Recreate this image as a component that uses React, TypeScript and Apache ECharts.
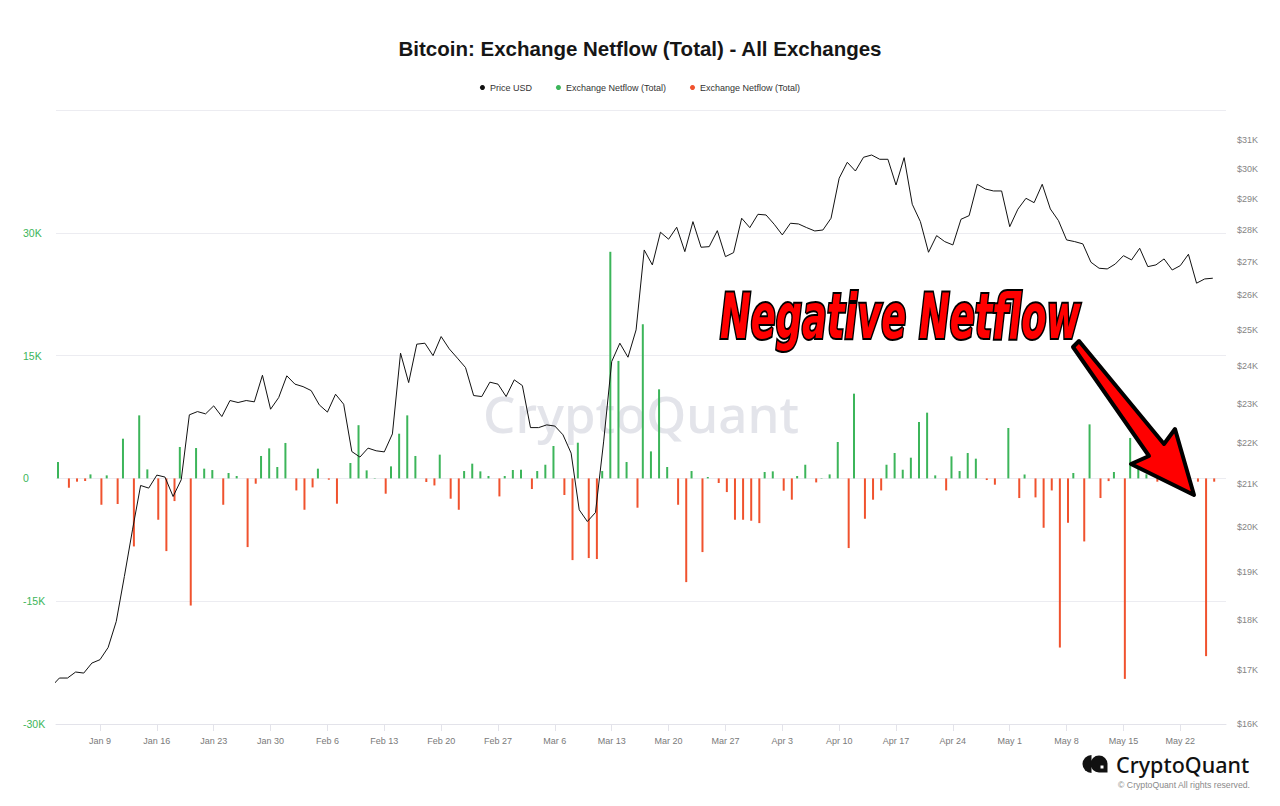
import React, { useEffect, useRef } from "react";
import * as echarts from "echarts";

// ---------- data ----------
const START_DATE = "2023-01-03";

// BTC price (USD), daily from 2023-01-03 to 2023-05-26
const PRICE_USD = [
  16690,
  16855, 16855, 16970, 16950, 17143, 17209, 17448, 17970, 18910, 19935,
  20962, 20900, 21210, 21163, 20702, 21099, 22708, 22792, 22733, 22940,
  22664, 23079, 23027, 23079, 23045, 23750, 22853, 23157, 23734, 23511,
  23445, 23340, 22965, 22779, 23244, 22983, 21784, 21647, 21868, 21802,
  21775, 22223, 24351, 23553, 24600, 24627, 24283, 24813, 24469, 24214,
  23957, 23210, 23183, 23564, 23511, 23183, 23626, 23473, 22382, 22382,
  22451, 22421, 22200, 21744, 20392, 20124, 20330, 22022, 24121, 24627,
  24239, 25001, 27370, 26911, 27925, 27705, 28083, 27318, 28262, 27454,
  27473, 27975, 27164, 27287, 28371, 28071, 28498, 28476, 28179, 27841,
  28211, 28188, 28071, 27965, 27996, 28371, 29686, 30227, 29930, 30399,
  30477, 30330, 30330, 29459, 30386, 28824, 28262, 27299, 27817, 27630,
  27526, 28338, 28455, 29483, 29326, 29261, 29261, 28101, 28662, 29019,
  28876, 29483, 28671, 28294, 27683, 27630, 27559, 26992, 26809, 26788,
  26939, 27193, 27063, 27423, 26858, 26911, 27094, 26756, 26889, 27237,
  26359, 26486, 26508,
];

// Exchange netflow (BTC), same dates
const NETFLOW = [
  null,
  2000, -1140, -400, -320, 490, -3220, 370, -3130, 4850, -8310,
  7700, 1100, -5050, -8880, -2770, 3840, -15530, 3710, 1190, 1020,
  -3220, 660, 290, -8390, -650, 2740, 3670, 1390, 4330, -1470,
  -3830, -1100, 1190, -160, -3090, 0, 1880, 6500, 980, 50,
  -1870, 1470, 5460, 7700, 2740, -440, -860, 2900, -2480, -3830,
  900, 1800, 860, 290, -2200, 290, 1020, 1060, -1300, 900,
  1670, 3960, -2030, -9980, 4360, -9730, -9850, 900, 27680, 14350,
  2000, -3580, 18830, 3300, 10880, 1390, -3220, -12670, 900, -9000,
  170, -560, -1670, -5050, -5050, -5170, -5460, 780, 860, -1500,
  -2600, 290, 1670, -490, 50, 490, 4450, -8510, 10350, -4930,
  -2600, -1470, 1670, 3100, 1060, 2530, 6890, 8030, 370, -1470,
  2690, 900, 3100, 2410, -200, -770, 0, 6160, -2400, 490,
  -2320, -6030, -1470, -20660, -5420, 660, -7700, 6600, -2400, -330,
  780, -24490, 4940, 1190, 500, -400, 300, -600, 200, -300,
  -400, -21710, -400,
];

const WEEK_TICKS = [
  "2023-01-09", "2023-01-16", "2023-01-23", "2023-01-30", "2023-02-06",
  "2023-02-13", "2023-02-20", "2023-02-27", "2023-03-06", "2023-03-13",
  "2023-03-20", "2023-03-27", "2023-04-03", "2023-04-10", "2023-04-17",
  "2023-04-24", "2023-05-01", "2023-05-08", "2023-05-15", "2023-05-22",
];

const PRICE_TICKS = [
  16000, 17000, 18000, 19000, 20000, 21000, 22000, 23000,
  24000, 25000, 26000, 27000, 28000, 29000, 30000, 31000,
];

const NETFLOW_MIN = -30000;
const NETFLOW_MAX = 45000;
const NETFLOW_STEP = 15000;
const PRICE_MIN = 16000;
const PRICE_MAX = 32071;
const X_MIN = "2023-01-03T14:00";
const X_MAX = "2023-05-27T15:00";

const MONTHS = ["Jan", "Feb", "Mar", "Apr", "May", "Jun", "Jul", "Aug", "Sep", "Oct", "Nov", "Dec"];
const DAY_MS = 86400000;

function toMs(s: string): number {
  const [datePart, timePart] = s.split("T");
  const [y, m, d] = datePart.split("-").map(Number);
  const [hh, mi] = timePart ? timePart.split(":").map(Number) : [0, 0];
  return Date.UTC(y, m - 1, d, hh, mi);
}

function buildDates(start: string, n: number): number[] {
  const t0 = toMs(start);
  const out: number[] = [];
  for (let i = 0; i < n; i++) out.push(t0 + i * DAY_MS);
  return out;
}

const GREEN = "#3cb55a";
const RED = "#f0522e";
const NAME_GREEN = "Exchange Netflow (Total)";
const NAME_RED = "Exchange Netflow (Total) ";

export default function App() {
  const ref = useRef<HTMLDivElement>(null);

  useEffect(() => {
    if (!ref.current) return;
    const chart = echarts.init(ref.current, null, { renderer: "svg" });
    const dates = buildDates(START_DATE, PRICE_USD.length);
    const weekTicks = WEEK_TICKS.map(toMs);

    const priceData = dates.map((d, i) => [d, PRICE_USD[i]]);
    const greenData = dates.map((d, i) => {
      const v = NETFLOW[i];
      return [d, v != null && v > 0 ? v : null];
    });
    const redData = dates.map((d, i) => {
      const v = NETFLOW[i];
      return [d, v != null && v < 0 ? v : null];
    });

    const option: any = {
      animation: false,
      backgroundColor: "#ffffff",
      title: {
        text: "Bitcoin: Exchange Netflow (Total) - All Exchanges",
        left: "center",
        top: 33,
        textStyle: {
          fontFamily: "Liberation Sans, Arial, sans-serif",
          fontSize: 20.5,
          fontWeight: "bold",
          color: "#161616",
        },
      },
      legend: {
        top: 78,
        left: "center",
        icon: "circle",
        itemWidth: 5,
        itemHeight: 5,
        itemGap: 24,
        formatter: (name: string) => name.trim(),
        textStyle: {
          fontFamily: "Liberation Sans, Arial, sans-serif",
          fontSize: 9,
          color: "#333",
        },
        data: ["Price USD", NAME_GREEN, NAME_RED],
      },
      grid: { left: 56, right: 54, top: 110, bottom: 82 },
      xAxis: {
        type: "value",
        min: toMs(X_MIN),
        max: toMs(X_MAX),
        axisLine: { show: true, onZero: false, lineStyle: { color: "#e3e3ea", width: 1 } },
        axisTick: {
          show: true,
          length: 7,
          customValues: weekTicks,
          lineStyle: { color: "#e3e3ea" },
        },
        splitLine: { show: false },
        axisLabel: {
          customValues: weekTicks,
          margin: 12,
          color: "#7a7a7a",
          fontSize: 9,
          fontFamily: "Liberation Sans, Arial, sans-serif",
          formatter: (v: number) => {
            const dt = new Date(v);
            return `${MONTHS[dt.getUTCMonth()]} ${dt.getUTCDate()}`;
          },
        },
      },
      yAxis: [
        {
          type: "value",
          position: "left",
          min: NETFLOW_MIN,
          max: NETFLOW_MAX,
          interval: NETFLOW_STEP,
          axisLine: { show: false },
          axisTick: { show: false },
          splitLine: { show: true, lineStyle: { color: "#ececf1", width: 1 } },
          axisLabel: {
            align: "left",
            margin: 33,
            color: GREEN,
            fontSize: 10.5,
            fontFamily: "Liberation Sans, Arial, sans-serif",
            formatter: (v: number) =>
              v >= NETFLOW_MAX ? "" : v === 0 ? "0" : `${v / 1000}K`,
          },
        },
        {
          type: "log",
          logBase: 10,
          position: "right",
          min: PRICE_MIN,
          max: PRICE_MAX,
          axisLine: { show: false },
          axisTick: { show: false },
          splitLine: { show: false },
          axisLabel: {
            customValues: PRICE_TICKS,
            align: "left",
            margin: 11,
            color: "#858585",
            fontSize: 9,
            fontFamily: "Liberation Sans, Arial, sans-serif",
            formatter: (v: number) => `$${Math.round(v / 1000)}K`,
          },
        },
      ],
      series: [
        {
          name: "Price USD",
          type: "line",
          yAxisIndex: 1,
          data: priceData,
          showSymbol: false,
          symbol: "circle",
          itemStyle: { color: "#111111" },
          lineStyle: { color: "#111111", width: 1 },
          z: 4,
        },
        {
          name: NAME_GREEN,
          type: "bar",
          yAxisIndex: 0,
          data: greenData,
          barWidth: 2,
          barGap: "40%",
          itemStyle: { color: GREEN },
          z: 3,
        },
        {
          name: NAME_RED,
          type: "bar",
          yAxisIndex: 0,
          data: redData,
          barWidth: 2,
          barGap: "40%",
          itemStyle: { color: RED },
          z: 3,
        },
      ],
      graphic: [
        {
          type: "text",
          x: 641,
          y: 413,
          z: 0,
          silent: true,
          style: {
            text: "CryptoQuant",
            font: '500 51px "Noto Sans", sans-serif',
            fill: "#e3e4ea",
            textAlign: "center",
            textVerticalAlign: "middle",
          },
        },
        {
          type: "polygon",
          z: 20,
          shape: {
            points: [
              [1073, 347],
              [1079, 341],
              [1164, 444],
              [1175, 429],
              [1194, 495],
              [1131, 464],
              [1149, 456],
            ],
          },
          style: {
            fill: "#ff0000",
            stroke: "#000000",
            lineWidth: 4,
            lineJoin: "round",
          },
        },
        {
          type: "text",
          x: 720,
          y: 316,
          scaleX: 0.66,
          z: 21,
          style: {
            text: "Negative Netflow",
            font: 'italic bold 62px "DejaVu Sans Condensed", "DejaVu Sans", sans-serif',
            fill: "#ff0000",
            stroke: "#000000",
            lineWidth: 4,
            textAlign: "left",
            textVerticalAlign: "middle",
          },
        },
        {
          type: "sector",
          z: 5,
          shape: { cx: 1091.5, cy: 764, r: 9, startAngle: Math.PI / 2, endAngle: Math.PI * 1.5, clockwise: true },
          style: { fill: "#111" },
        },
        {
          type: "sector",
          z: 5,
          shape: { cx: 1099, cy: 764, r: 8.5, startAngle: Math.PI / 2, endAngle: Math.PI * 2, clockwise: true },
          style: { fill: "#111" },
        },
        {
          type: "rect",
          z: 5,
          shape: { x: 1099, y: 764, width: 8.5, height: 8.5 },
          style: { fill: "#111" },
        },
        {
          type: "rect",
          z: 6,
          shape: { x: 1100.5, y: 765.5, width: 3, height: 3 },
          style: { fill: "#fff" },
        },
        {
          type: "text",
          x: 1116,
          y: 764,
          z: 5,
          style: {
            text: "CryptoQuant",
            font: '500 21.5px "Noto Sans", sans-serif',
            fill: "#111",
            textAlign: "left",
            textVerticalAlign: "middle",
          },
        },
        {
          type: "text",
          x: 1250,
          y: 785,
          z: 5,
          style: {
            text: "© CryptoQuant All rights reserved.",
            font: '8.7px "Liberation Sans", Arial, sans-serif',
            fill: "#8a8a8a",
            textAlign: "right",
            textVerticalAlign: "middle",
          },
        },
      ],
    };

    chart.setOption(option);
    return () => chart.dispose();
  }, []);

  return (
    <div
      ref={ref}
      style={{ position: "fixed", left: 0, top: 0, width: 1280, height: 806, background: "#fff" }}
    />
  );
}
